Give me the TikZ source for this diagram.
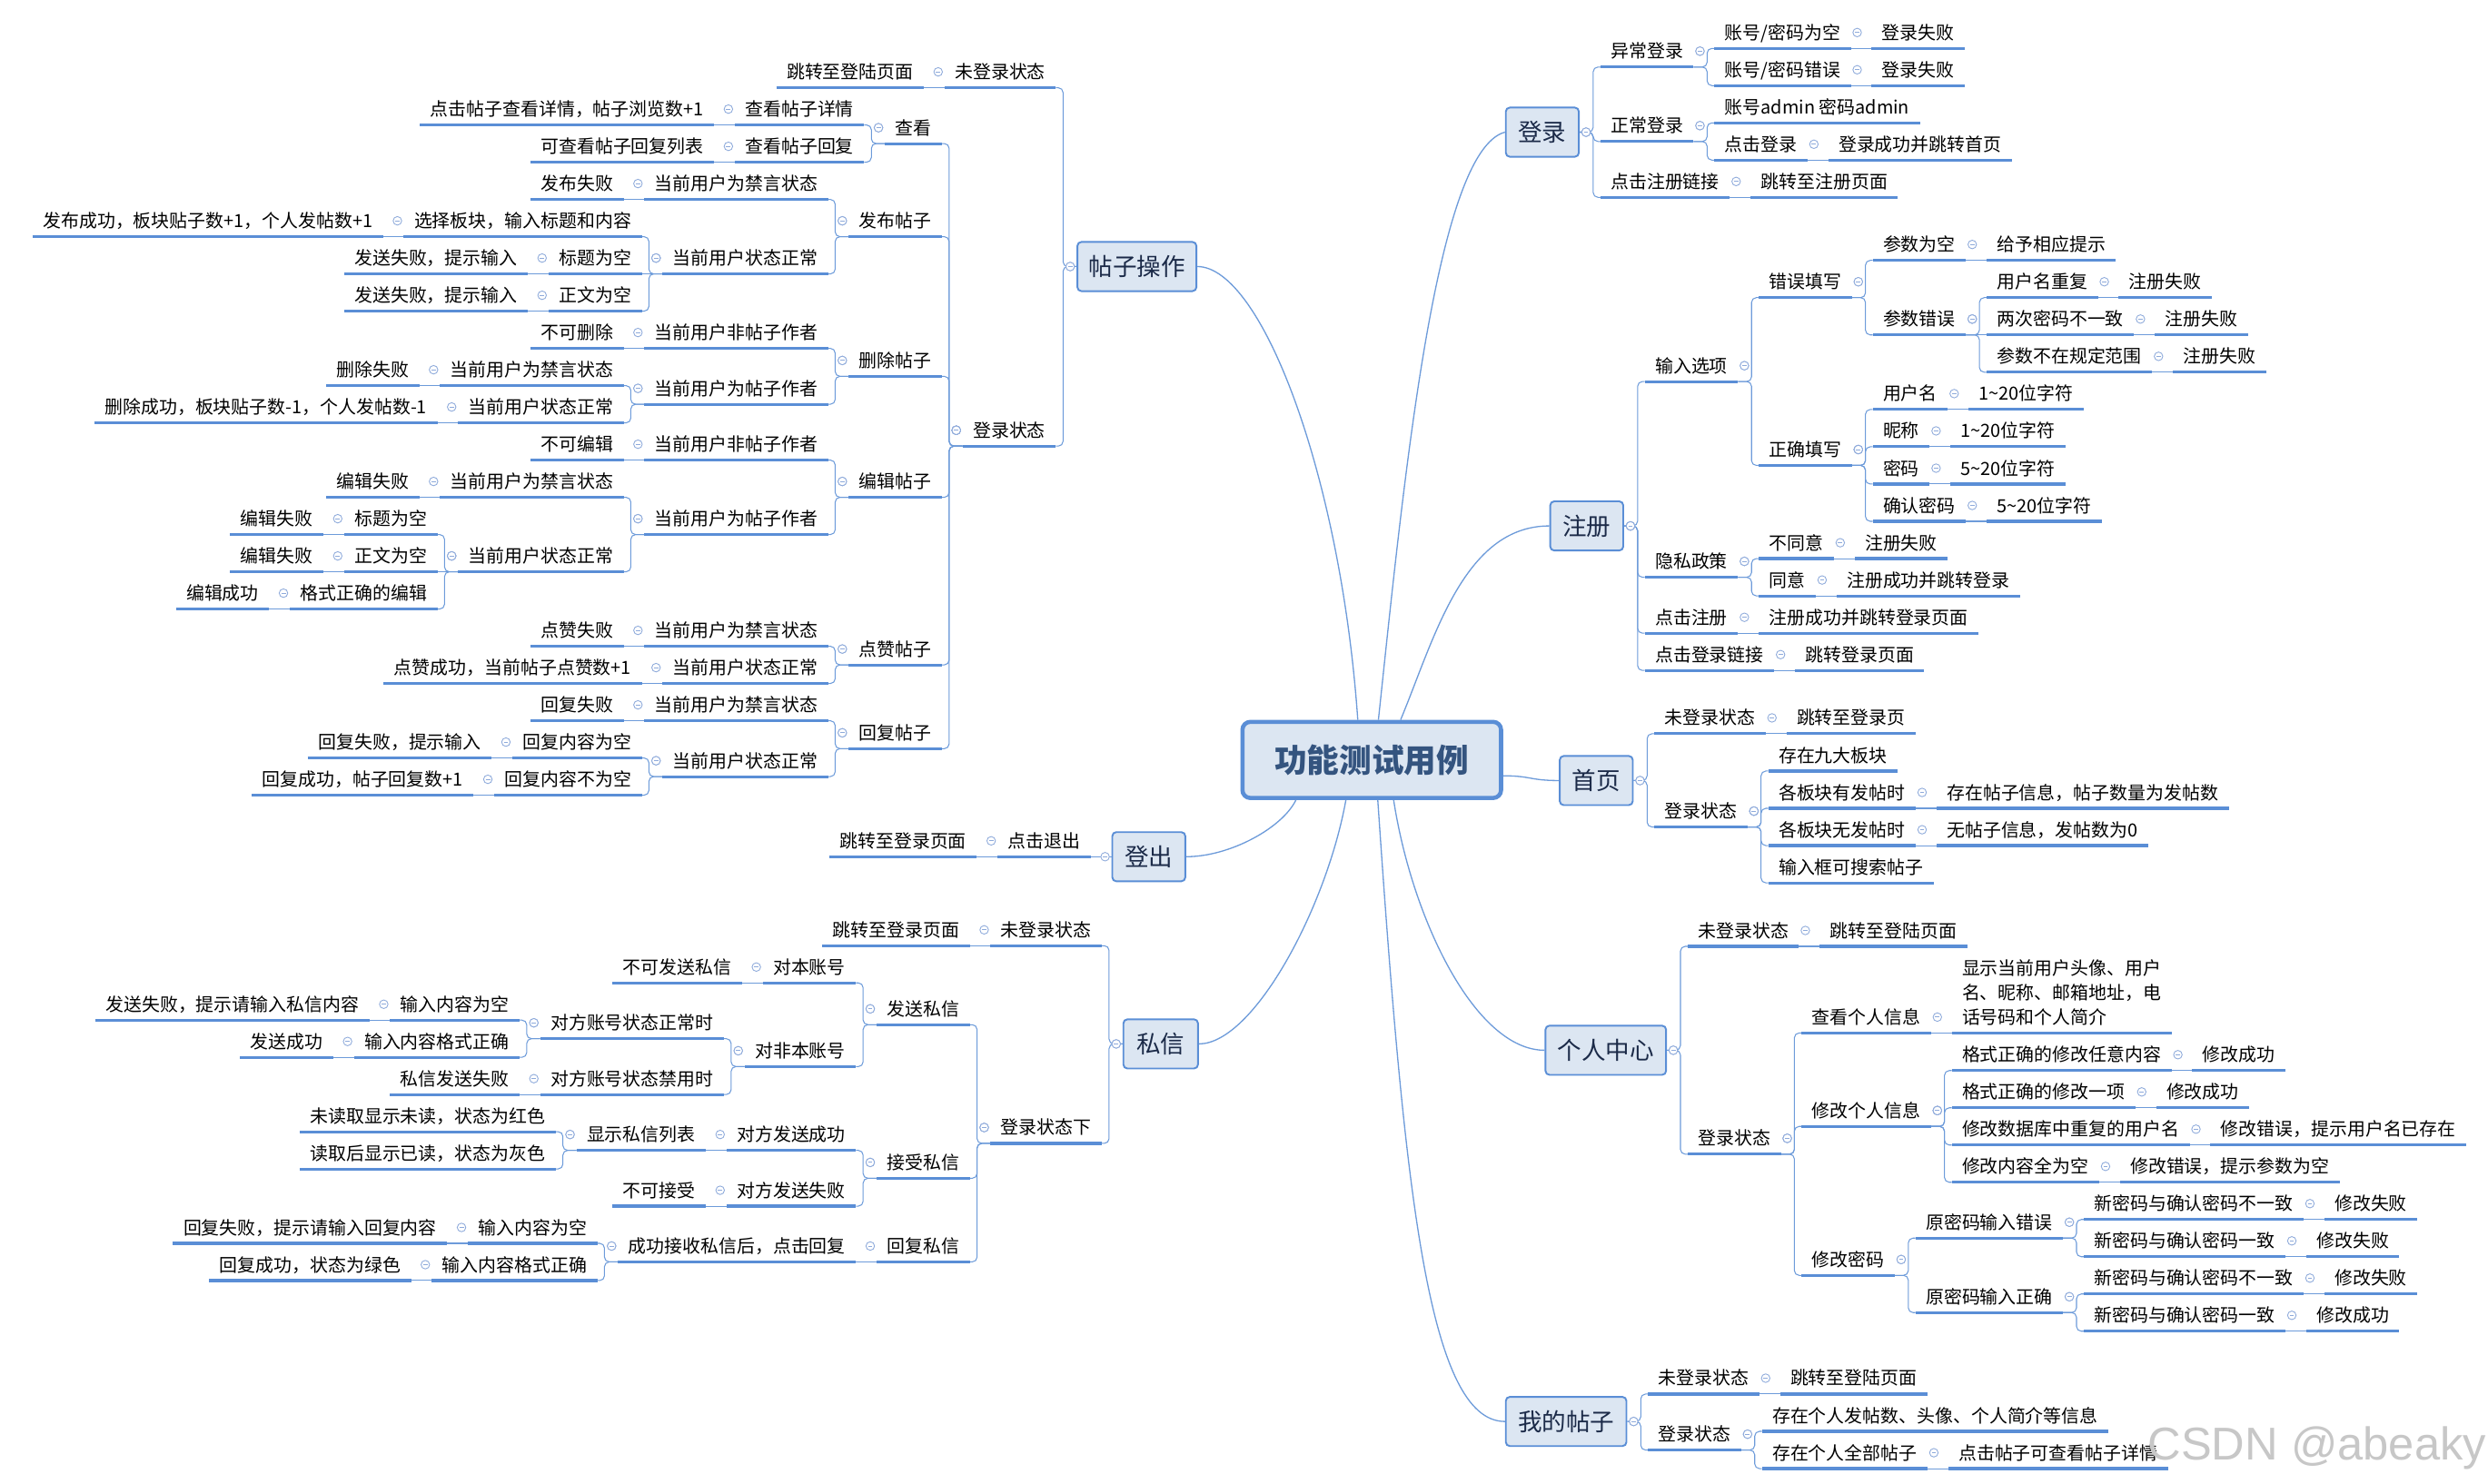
\documentclass[tikz,border=0pt]{standalone}
\usepackage{fontspec}
\setmainfont{Noto Sans CJK SC}
\newfontfamily\wmfont{Liberation Sans}
\usetikzlibrary{calc}
\definecolor{ulc}{HTML}{5A8ED6}
\definecolor{cnc}{HTML}{6D9BDA}
\definecolor{boxfill}{HTML}{DCE6F2}
\definecolor{boxtext}{HTML}{1B2A48}
\definecolor{roottext}{HTML}{34547F}
\definecolor{colc}{HTML}{8EAADB}
\newcommand\mmleaffont{\fontsize{11.4pt}{13pt}\selectfont}
\newcommand\mmboxfont{\fontsize{15.2pt}{18pt}\selectfont}
\newcommand\mmrootfont{\fontsize{20.4pt}{24pt}\selectfont\bfseries}
\tikzset{
 mmleaf/.style={inner xsep=6.6pt, inner ysep=0pt, outer sep=0pt, text height=9pt, text depth=5.7pt, font=\mmleaffont, text=black},
 mmul/.style={draw=ulc, line width=1.8pt},
 mmconn/.style={draw=cnc, line width=0.6pt, rounded corners=3pt},
 mmmain/.style={draw=cnc, line width=0.75pt},
 mmbox/.style={draw=ulc, fill=boxfill, line width=1.1pt, rounded corners=2.5pt, font=\mmboxfont, text=boxtext, inner sep=0pt, minimum height=31pt},
 mmroot/.style={draw=ulc, fill=boxfill, line width=2.6pt, rounded corners=5pt, font=\mmrootfont, text=roottext, inner sep=0pt, minimum width=163pt, minimum height=48pt},
 mmcirc/.style={draw=colc, fill=white, line width=0.5pt},
 mmcircm/.style={draw=colc, line width=0.5pt},
}
\newcommand\mmC[1]{\draw[mmcirc] (#1-c) circle[radius=2.7pt]; \draw[mmcircm] ($(#1-c)+(-1.4,0)$) -- ++(2.8,0);}
\newcommand\mmR[4]{%
  \coordinate (tmpy) at (0,#3);
  \node[mmleaf,anchor=south west] (#1) at ($(#2-o |- tmpy)+(13,0)$) {#4};
  \draw[mmul] (#1.south west) -- (#1.south east);
  \draw[mmconn] (#2-o) -- ++(8.5,0) |- (#1.south west);
  \coordinate (#1-o) at (#1.south east);
  \coordinate (#1-c) at ($(#1.south east)+(4,-10)$);
  \mmC{#2}}
\newcommand\mmRs[3]{%
  \node[mmleaf,anchor=south west] (#1) at ($(#2-o)+(13,0)$) {#3};
  \draw[mmul] (#1.south west) -- (#1.south east);
  \draw[mmconn] (#2-o) -- (#1.south west);
  \coordinate (#1-o) at (#1.south east);
  \coordinate (#1-c) at ($(#1.south east)+(4,-10)$);
  \mmC{#2}}
\newcommand\mmL[4]{%
  \coordinate (tmpy) at (0,#3);
  \node[mmleaf,anchor=south east] (#1) at ($(#2-o |- tmpy)+(-13,0)$) {#4};
  \draw[mmul] (#1.south west) -- (#1.south east);
  \draw[mmconn] (#2-o) -- ++(-8.5,0) |- (#1.south east);
  \coordinate (#1-o) at (#1.south west);
  \coordinate (#1-c) at ($(#1.south west)+(-4,-10)$);
  \mmC{#2}}
\newcommand\mmLs[3]{%
  \node[mmleaf,anchor=south east] (#1) at ($(#2-o)+(-13,0)$) {#3};
  \draw[mmul] (#1.south west) -- (#1.south east);
  \draw[mmconn] (#2-o) -- (#1.south east);
  \coordinate (#1-o) at (#1.south west);
  \coordinate (#1-c) at ($(#1.south west)+(-4,-10)$);
  \mmC{#2}}
\newcommand\mmBoxR[5]{\node[mmbox, minimum width=#4pt] (#1) at (#2,#3) {#5};
  \coordinate (#1-o) at (#1.east); \coordinate (#1-c) at ($(#1.east)+(4,0)$);}
\newcommand\mmBoxL[5]{\node[mmbox, minimum width=#4pt] (#1) at (#2,#3) {#5};
  \coordinate (#1-o) at (#1.west); \coordinate (#1-c) at ($(#1.west)+(-4,0)$);}
\begin{document}
\begin{tikzpicture}[x=1pt,y=-1pt]
\fill[white] (0,0) rectangle (1568,935);
\useasboundingbox (0,0) rectangle (1568,935);
% root and main topics
\node[mmroot] (root) at (864.5,479) {功能测试用例};
\mmBoxL{tz}{716.5}{168}{75}{帖子操作}
\mmBoxL{dc}{724}{540}{46}{登出}
\mmBoxL{sx}{731.5}{658}{47}{私信}
\mmBoxR{dl}{972}{83.3}{46}{登录}
\mmBoxR{zc}{1000}{331.5}{46}{注册}
\mmBoxR{sy}{1006}{492}{46}{首页}
\mmBoxR{gr}{1012}{662}{76}{个人中心}
\mmBoxR{wd}{987}{896}{76}{我的帖子}
\coordinate (rt1) at ($(root.north west)+(74,0)$);
\coordinate (rt2) at ($(root.north west)+(87,0)$);
\coordinate (rt3) at ($(root.north west)+(101,0)$);
\coordinate (re) at ($(root.east)+(0,10)$);
\coordinate (rb1) at ($(root.south west)+(35,0)$);
\coordinate (rb2) at ($(root.south west)+(66.5,0)$);
\coordinate (rb3) at ($(root.south west)+(86.6,0)$);
\coordinate (rb4) at ($(root.south west)+(96.6,0)$);
\draw[mmmain] (rt1) .. controls (845,300) and (795,168) .. (tz.east);
\draw[mmmain] (rt2) .. controls (885,300) and (905,95) .. (dl.west);
\draw[mmmain] (rt3) .. controls (903.6,403.6) and (922,331.5) .. (zc.west);
\draw[mmmain] (re) .. controls (965,489) and (964,492) .. (sy.west);
\draw[mmmain] (rb4) .. controls (890,580) and (930,662) .. (gr.west);
\draw[mmmain] (rb3) .. controls (885,750) and (900,896) .. (wd.west);
\draw[mmmain] (rb1) .. controls (808,522) and (775,540) .. (dc.east);
\draw[mmmain] (rb2) .. controls (836,572) and (790,658) .. (sx.east);
% ===== 帖子操作 =====
\mmL{tz1}{tz}{55.3}{未登录状态}
\mmLs{tz1a}{tz1}{跳转至登陆页面}
\mmL{tz2}{tz}{281.2}{登录状态}
\mmL{ck}{tz2}{90.5}{查看}
\mmL{ck1}{ck}{78.77}{查看帖子详情}
\mmLs{ck1a}{ck1}{点击帖子查看详情，帖子浏览数+1}
\mmL{ck2}{ck}{102.24}{查看帖子回复}
\mmLs{ck2a}{ck2}{可查看帖子回复列表}
\mmL{fb}{tz2}{149.18}{发布帖子}
\mmL{fb1}{fb}{125.71}{当前用户为禁言状态}
\mmLs{fb1a}{fb1}{发布失败}
\mmL{fb2}{fb}{172.65}{当前用户状态正常}
\mmL{fb2a}{fb2}{149.18}{选择板块，输入标题和内容}
\mmLs{fb2a1}{fb2a}{发布成功，板块贴子数+1，个人发帖数+1}
\mmLs{fb2b}{fb2}{标题为空}
\mmLs{fb2b1}{fb2b}{发送失败，提示输入}
\mmL{fb2c}{fb2}{196.12}{正文为空}
\mmLs{fb2c1}{fb2c}{发送失败，提示输入}
\mmL{sc}{tz2}{237.2}{删除帖子}
\mmL{sc1}{sc}{219.59}{当前用户非帖子作者}
\mmLs{sc1a}{sc1}{不可删除}
\mmL{sc2}{sc}{254.8}{当前用户为帖子作者}
\mmL{sc2a}{sc2}{243.06}{当前用户为禁言状态}
\mmLs{sc2a1}{sc2a}{删除失败}
\mmL{sc2b}{sc2}{266.53}{当前用户状态正常}
\mmLs{sc2b1}{sc2b}{删除成功，板块贴子数-1，个人发帖数-1}
\mmL{bj}{tz2}{313.47}{编辑帖子}
\mmL{bj1}{bj}{290.0}{当前用户非帖子作者}
\mmLs{bj1a}{bj1}{不可编辑}
\mmL{bj2}{bj}{336.94}{当前用户为帖子作者}
\mmL{bj2a}{bj2}{313.47}{当前用户为禁言状态}
\mmLs{bj2a1}{bj2a}{编辑失败}
\mmL{bj2b}{bj2}{360.41}{当前用户状态正常}
\mmL{bj2b1}{bj2b}{336.94}{标题为空}
\mmLs{bj2b1a}{bj2b1}{编辑失败}
\mmLs{bj2b2}{bj2b}{正文为空}
\mmLs{bj2b2a}{bj2b2}{编辑失败}
\mmL{bj2b3}{bj2b}{383.88}{格式正确的编辑}
\mmLs{bj2b3a}{bj2b3}{编辑成功}
\mmL{dz}{tz2}{419.09}{点赞帖子}
\mmL{dz1}{dz}{407.35}{当前用户为禁言状态}
\mmLs{dz1a}{dz1}{点赞失败}
\mmL{dz2}{dz}{430.82}{当前用户状态正常}
\mmLs{dz2a}{dz2}{点赞成功，当前帖子点赞数+1}
\mmL{hf}{tz2}{471.9}{回复帖子}
\mmL{hf1}{hf}{454.29}{当前用户为禁言状态}
\mmLs{hf1a}{hf1}{回复失败}
\mmL{hf2}{hf}{489.5}{当前用户状态正常}
\mmL{hf2a}{hf2}{477.76}{回复内容为空}
\mmLs{hf2a1}{hf2a}{回复失败，提示输入}
\mmL{hf2b}{hf2}{501.23}{回复内容不为空}
\mmLs{hf2b1}{hf2b}{回复成功，帖子回复数+1}
% ===== 登出 =====
\mmLs{dc1}{dc}{点击退出}
\mmLs{dc1a}{dc1}{跳转至登录页面}
% ===== 私信 =====
\mmL{sx1}{sx}{596.1}{未登录状态}
\mmLs{sx1a}{sx1}{跳转至登录页面}
\mmL{sx2}{sx}{720.7}{登录状态下}
\mmL{fs}{sx2}{645.9}{发送私信}
\mmL{fs1}{fs}{619.55}{对本账号}
\mmLs{fs1a}{fs1}{不可发送私信}
\mmL{fs2}{fs}{672.3}{对非本账号}
\mmL{fs2a}{fs2}{654.7}{对方账号状态正常时}
\mmL{fs2a1}{fs2a}{643.0}{输入内容为空}
\mmLs{fs2a1a}{fs2a1}{发送失败，提示请输入私信内容}
\mmL{fs2a2}{fs2a}{666.45}{输入内容格式正确}
\mmLs{fs2a2a}{fs2a2}{发送成功}
\mmL{fs2b}{fs2}{689.9}{对方账号状态禁用时}
\mmLs{fs2b1}{fs2b}{私信发送失败}
\mmL{js}{sx2}{742.7}{接受私信}
\mmL{js1}{js}{725.1}{对方发送成功}
\mmLs{js1a}{js1}{显示私信列表}
\mmL{js1a1}{js1a}{713.35}{未读取显示未读，状态为红色}
\mmL{js1a2}{js1a}{736.8}{读取后显示已读，状态为灰色}
\mmL{js2}{js}{760.25}{对方发送失败}
\mmLs{js2a}{js2}{不可接受}
\mmL{hx}{sx2}{795.4}{回复私信}
\mmLs{hx1}{hx}{成功接收私信后，点击回复}
\mmL{hx1a}{hx1}{783.7}{输入内容为空}
\mmLs{hx1a1}{hx1a}{回复失败，提示请输入回复内容}
\mmL{hx1b}{hx1}{807.15}{输入内容格式正确}
\mmLs{hx1b1}{hx1b}{回复成功，状态为绿色}
% ===== 登录 =====
\mmR{dl1}{dl}{42.24}{异常登录}
\mmR{dl1a}{dl1}{30.5}{账号/密码为空}
\mmRs{dl1a1}{dl1a}{登录失败}
\mmR{dl1b}{dl1}{53.97}{账号/密码错误}
\mmRs{dl1b1}{dl1b}{登录失败}
\mmR{dl2}{dl}{89.18}{正常登录}
\mmR{dl2a}{dl2}{77.44}{账号admin 密码admin}
\mmR{dl2b}{dl2}{100.91}{点击登录}
\mmRs{dl2b1}{dl2b}{登录成功并跳转首页}
\mmR{dl3}{dl}{124.38}{点击注册链接}
\mmRs{dl3a}{dl3}{跳转至注册页面}
% ===== 注册 =====
\mmR{zc1}{zc}{240.5}{输入选项}
\mmR{cw}{zc1}{187.6}{错误填写}
\mmR{cw1}{cw}{164.1}{参数为空}
\mmRs{cw1a}{cw1}{给予相应提示}
\mmR{cw2}{cw}{211.1}{参数错误}
\mmR{cw2a}{cw2}{187.6}{用户名重复}
\mmRs{cw2a1}{cw2a}{注册失败}
\mmRs{cw2b}{cw2}{两次密码不一致}
\mmRs{cw2b1}{cw2b}{注册失败}
\mmR{cw2c}{cw2}{234.6}{参数不在规定范围}
\mmRs{cw2c1}{cw2c}{注册失败}
\mmR{zq}{zc1}{293.35}{正确填写}
\mmR{zq1}{zq}{258.1}{用户名}
\mmRs{zq1a}{zq1}{1\textasciitilde20位字符}
\mmR{zq2}{zq}{281.6}{昵称}
\mmRs{zq2a}{zq2}{1\textasciitilde20位字符}
\mmR{zq3}{zq}{305.1}{密码}
\mmRs{zq3a}{zq3}{5\textasciitilde20位字符}
\mmR{zq4}{zq}{328.6}{确认密码}
\mmRs{zq4a}{zq4}{5\textasciitilde20位字符}
\mmR{ys}{zc}{363.85}{隐私政策}
\mmR{ys1}{ys}{352.1}{不同意}
\mmRs{ys1a}{ys1}{注册失败}
\mmR{ys2}{ys}{375.6}{同意}
\mmRs{ys2a}{ys2}{注册成功并跳转登录}
\mmR{zc3}{zc}{399.1}{点击注册}
\mmRs{zc3a}{zc3}{注册成功并跳转登录页面}
\mmR{zc4}{zc}{422.6}{点击登录链接}
\mmRs{zc4a}{zc4}{跳转登录页面}
% ===== 首页 =====
\mmR{sy1}{sy}{462.5}{未登录状态}
\mmRs{sy1a}{sy1}{跳转至登录页}
\mmR{sy2}{sy}{521.25}{登录状态}
\mmR{sy2a}{sy2}{486}{存在九大板块}
\mmR{sy2b}{sy2}{509.5}{各板块有发帖时}
\mmRs{sy2b1}{sy2b}{存在帖子信息，帖子数量为发帖数}
\mmR{sy2c}{sy2}{533}{各板块无发帖时}
\mmRs{sy2c1}{sy2c}{无帖子信息，发帖数为0}
\mmR{sy2d}{sy2}{556.5}{输入框可搜索帖子}
% ===== 个人中心 =====
\mmR{gr1}{gr}{596.5}{未登录状态}
\mmRs{gr1a}{gr1}{跳转至登陆页面}
\mmR{gr2}{gr}{727.5}{登录状态}
\mmR{ck3}{gr2}{651.1}{查看个人信息}
\mmRs{ck3a}{ck3}{{\def\arraystretch{1.19}\begin{tabular}[b]{@{}l@{}}显示当前用户头像、用户\\名、昵称、邮箱地址，电\\话号码和个人简介\end{tabular}}}
\mmR{xg}{gr2}{710}{修改个人信息}
\mmR{xg1}{xg}{674.8}{格式正确的修改任意内容}
\mmRs{xg1a}{xg1}{修改成功}
\mmR{xg2}{xg}{698.27}{格式正确的修改一项}
\mmRs{xg2a}{xg2}{修改成功}
\mmR{xg3}{xg}{721.74}{修改数据库中重复的用户名}
\mmRs{xg3a}{xg3}{修改错误，提示用户名已存在}
\mmR{xg4}{xg}{745.21}{修改内容全为空}
\mmRs{xg4a}{xg4}{修改错误，提示参数为空}
\mmR{mm}{gr2}{803.9}{修改密码}
\mmR{mm1}{mm}{780.4}{原密码输入错误}
\mmR{mm1a}{mm1}{768.68}{新密码与确认密码不一致}
\mmRs{mm1a1}{mm1a}{修改失败}
\mmR{mm1b}{mm1}{792.15}{新密码与确认密码一致}
\mmRs{mm1b1}{mm1b}{修改失败}
\mmR{mm2}{mm}{827.36}{原密码输入正确}
\mmR{mm2a}{mm2}{815.62}{新密码与确认密码不一致}
\mmRs{mm2a1}{mm2a}{修改失败}
\mmR{mm2b}{mm2}{839.09}{新密码与确认密码一致}
\mmRs{mm2b1}{mm2b}{修改成功}
% ===== 我的帖子 =====
\mmR{wd1}{wd}{878.7}{未登录状态}
\mmRs{wd1a}{wd1}{跳转至登陆页面}
\mmR{wd2}{wd}{914}{登录状态}
\mmR{wd2a}{wd2}{902.2}{存在个人发帖数、头像、个人简介等信息}
\mmR{wd2b}{wd2}{925.7}{存在个人全部帖子}
\mmRs{wd2b1}{wd2b}{点击帖子可查看帖子详情}
% watermark
\node[anchor=base east, inner sep=0pt, font=\wmfont\fontsize{29pt}{30pt}\selectfont, text=black!22] (wm) at (1567,920) {CSDN @abeaky};
\end{tikzpicture}
\end{document}
